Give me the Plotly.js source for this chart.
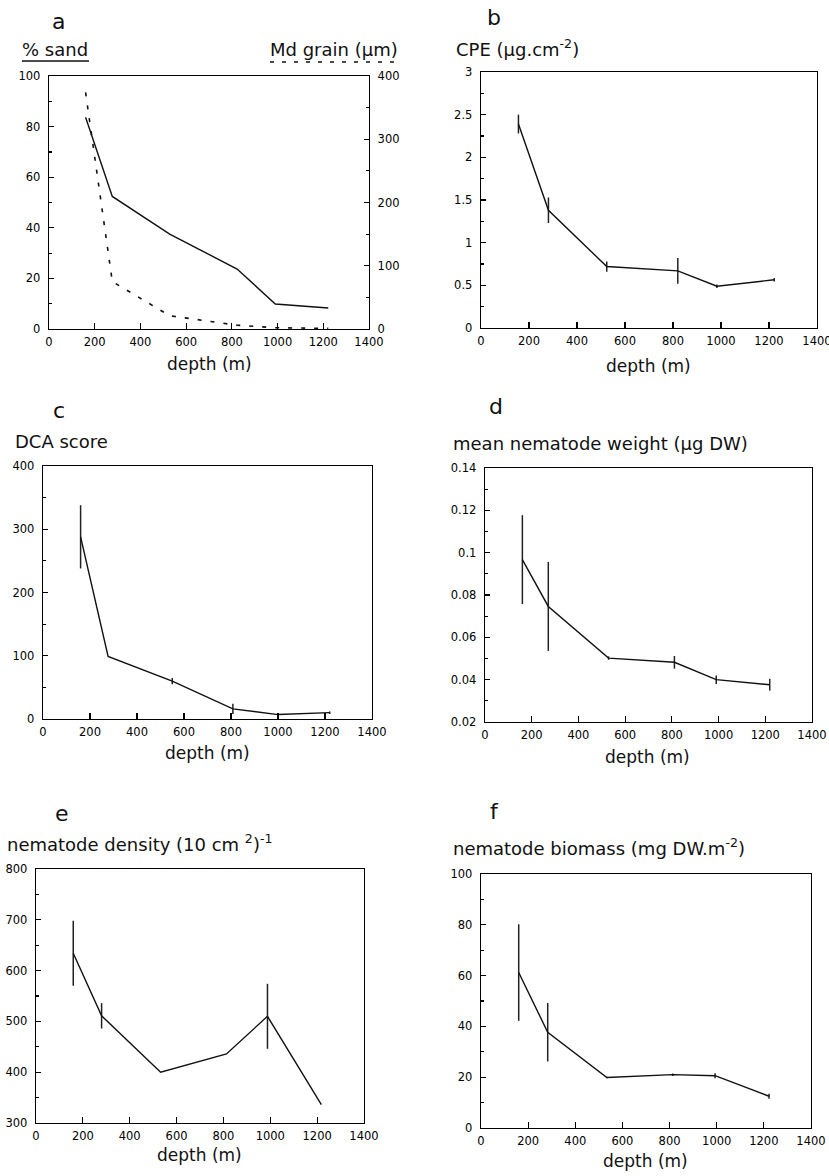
<!DOCTYPE html>
<html>
<head>
<meta charset="utf-8">
<script src="https://cdn.plot.ly/plotly-3.0.1.min.js"></script>
<style>html,body{margin:0;padding:0;background:#fff;}#chart{width:829px;height:1176px;}</style>
</head>
<body>
<div id="chart"></div>
<script>
// ---------------- data ----------------
const depthA = [160, 277, 528, 823, 990, 1222];
const sandPct = [83.7, 52.4, 37.5, 23.7, 9.9, 8.3];
const mdGrain = [374, 75, 21, 6, 2, 1];

const depthB = [156, 281, 524, 820, 983, 1222];
const cpe = [2.39, 1.38, 0.72, 0.67, 0.49, 0.565];
const cpeErr = [0.11, 0.15, 0.06, 0.15, 0.02, 0.02];

const depthC = [160, 277, 550, 808, 1000, 1220];
const dca = [288, 99, 60, 16, 7, 10];
const dcaErr = [50, 0, 5, 8, 2, 2];

const depthD = [160, 271, 529, 811, 990, 1219];
const weight = [0.0967, 0.0746, 0.0502, 0.0482, 0.0400, 0.0376];
const weightErr = [0.021, 0.021, 0.0008, 0.003, 0.002, 0.0028];

const depthE = [159, 280, 532, 813, 988, 1218];
const density = [634, 511, 400, 436, 510, 336];
const densityErr = [64, 25, 0, 0, 64, 0];

const depthF = [160, 283, 534, 814, 993, 1222];
const biomass = [61.2, 37.7, 19.9, 21.0, 20.6, 12.5];
const biomassErr = [19, 11.5, 0.3, 0.5, 1, 1];

const xTitle = 'depth (m)';
const panelLetters = ['a', 'b', 'c', 'd', 'e', 'f'];
const panelTitles = ['% sand', 'CPE (µg.cm<sup>-2</sup>)', 'DCA score',
  'mean nematode weight (µg DW)', 'nematode density (10 cm <sup>2</sup>)<sup>-1</sup>',
  'nematode biomass (mg DW.m<sup>-2</sup>)'];
const rightTitleA = 'Md grain (µm)';

// ---------------- layout helpers ----------------
const W = 829, H = 1176;
const px = x => x / W;
const py = y => 1 - y / H;
// plot boxes in pixels: [left, top, right, bottom]
const boxes = {
  a: [49, 76, 369, 329], b: [481, 72, 817, 328],
  c: [43, 466, 372, 719], d: [485, 468, 812, 722],
  e: [36, 869, 364, 1123], f: [481, 874, 811, 1128]
};
const tickFont = {family: 'DejaVu Sans, sans-serif', size: 11.5, color: '#000'};
const textFont = {family: 'DejaVu Sans, sans-serif', size: 18, color: '#111'};
const letterFont = {family: 'DejaVu Sans, sans-serif', size: 22, color: '#111'};
const depthFont = {family: 'DejaVu Sans, sans-serif', size: 17, color: '#111'};

function xAxis(box, yId) {
  return {
    domain: [px(box[0]), px(box[2])], anchor: yId, range: [0, 1400], tick0: 0, dtick: 200,
    ticks: 'inside', ticklen: 6, tickwidth: 1.2, tickcolor: '#000',
    showline: true, linecolor: '#000', linewidth: 1.3, mirror: true,
    showgrid: false, zeroline: false, tickfont: tickFont, ticklabelstandoff: 2,
    ticklabeloverflow: 'allow', fixedrange: true
  };
}
function yAxis(box, xId, range, dtick, minorDtick) {
  return {
    domain: [py(box[3]), py(box[1])], anchor: xId, range: range, tick0: range[0], dtick: dtick,
    ticks: 'inside', ticklen: 5, tickwidth: 1.2, tickcolor: '#000',
    minor: {ticks: 'inside', ticklen: 3, dtick: minorDtick, tickcolor: '#000', showgrid: false},
    showline: true, linecolor: '#000', linewidth: 1.3, mirror: true,
    showgrid: false, zeroline: false, tickfont: tickFont, ticklabelstandoff: 5,
    ticklabeloverflow: 'allow', fixedrange: true
  };
}

const lineStyle = {color: '#111', width: 1.4};
function errStyle(arr) {
  return {type: 'data', array: arr, visible: true, width: 0, thickness: 1.5, color: '#222'};
}

const traces = [
  {x: depthA, y: sandPct, xaxis: 'x', yaxis: 'y', mode: 'lines', line: lineStyle, name: '% sand'},
  {x: depthA, y: mdGrain, xaxis: 'x', yaxis: 'y2', mode: 'lines',
   line: {color: '#111', width: 1.6, dash: '4px,9px'}, name: 'Md grain'},
  {x: depthB, y: cpe, xaxis: 'x2', yaxis: 'y3', mode: 'lines', line: lineStyle, error_y: errStyle(cpeErr), name: 'CPE'},
  {x: depthC, y: dca, xaxis: 'x3', yaxis: 'y4', mode: 'lines', line: lineStyle, error_y: errStyle(dcaErr), name: 'DCA'},
  {x: depthD, y: weight, xaxis: 'x4', yaxis: 'y5', mode: 'lines', line: lineStyle, error_y: errStyle(weightErr), name: 'weight'},
  {x: depthE, y: density, xaxis: 'x5', yaxis: 'y6', mode: 'lines', line: lineStyle, error_y: errStyle(densityErr), name: 'density'},
  {x: depthF, y: biomass, xaxis: 'x6', yaxis: 'y7', mode: 'lines', line: lineStyle, error_y: errStyle(biomassErr), name: 'biomass'}
];

const yA = yAxis(boxes.a, 'x', [0, 100], 20, 10);
yA.mirror = false;
const y2A = yAxis(boxes.a, 'x', [0, 400], 100, 50);
Object.assign(y2A, {overlaying: 'y', side: 'right', mirror: false});

const layout = {
  width: W, height: H, margin: {l: 0, r: 0, t: 0, b: 0},
  paper_bgcolor: '#fff', plot_bgcolor: '#fff', showlegend: false,
  xaxis: xAxis(boxes.a, 'y'), yaxis: yA, yaxis2: y2A,
  xaxis2: xAxis(boxes.b, 'y3'), yaxis3: yAxis(boxes.b, 'x2', [0, 3], 0.5, 0.25),
  xaxis3: xAxis(boxes.c, 'y4'), yaxis4: yAxis(boxes.c, 'x3', [0, 400], 100, 50),
  xaxis4: xAxis(boxes.d, 'y5'), yaxis5: yAxis(boxes.d, 'x4', [0.02, 0.14], 0.02, 0.01),
  xaxis5: xAxis(boxes.e, 'y6'), yaxis6: yAxis(boxes.e, 'x5', [300, 800], 100, 50),
  xaxis6: xAxis(boxes.f, 'y7'), yaxis7: yAxis(boxes.f, 'x6', [0, 100], 20, 10),
  annotations: [],
  shapes: []
};

function ann(text, x, y, font, xanchor) {
  layout.annotations.push({text: text, x: px(x), y: py(y), xref: 'paper', yref: 'paper',
    showarrow: false, font: font, xanchor: xanchor || 'center', yanchor: 'middle'});
}
// panel letters
const letterPos = [[58, 21], [494, 18], [59, 410], [496, 406], [62, 813], [494, 811]];
panelLetters.forEach((t, i) => ann(t, letterPos[i][0], letterPos[i][1], letterFont));
// panel y titles
const titlePos = [[20, 50], [454, 48], [13, 441], [451, 443], [5, 843], [451, 847]];
panelTitles.forEach((t, i) => ann(t, titlePos[i][0], titlePos[i][1], textFont, 'left'));
ann(rightTitleA, 268, 50, textFont, 'left');
// x titles
const depthPos = [[209, 364], [648, 366], [207, 753], [647, 757], [199, 1155], [645, 1161]];
depthPos.forEach(p => ann(xTitle, p[0], p[1], depthFont));
// legend-like underlines under panel a titles
layout.shapes.push({type: 'line', xref: 'paper', yref: 'paper', x0: px(22), x1: px(89), y0: py(61), y1: py(61),
  line: {color: '#111', width: 1.3}});
layout.shapes.push({type: 'line', xref: 'paper', yref: 'paper', x0: px(270), x1: px(396), y0: py(62), y1: py(62),
  line: {color: '#111', width: 1.5, dash: '4px,8px'}});

Plotly.newPlot('chart', traces, layout, {staticPlot: true, displayModeBar: false});
</script>
</body>
</html>
